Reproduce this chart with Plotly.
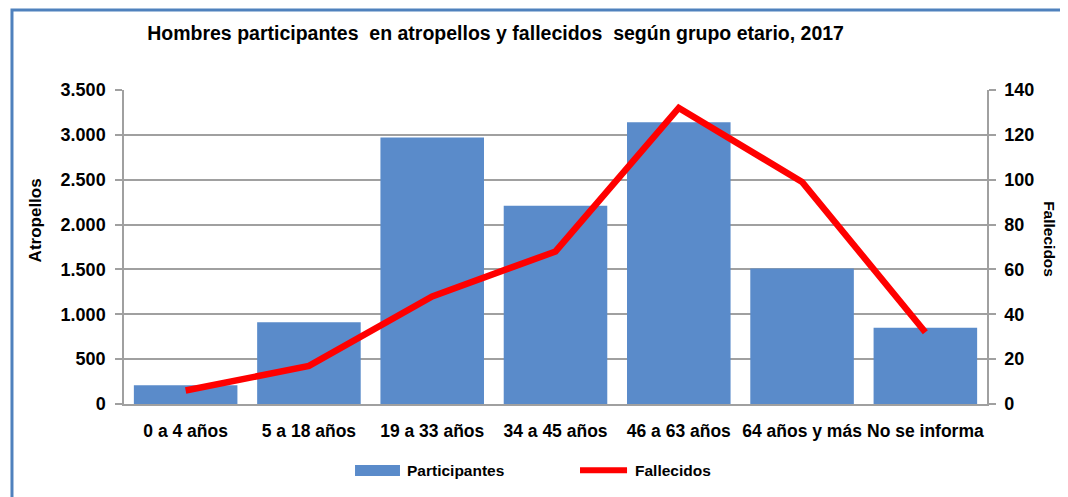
import plotly.graph_objects as go

categories = ["0 a 4 años", "5 a 18 años", "19 a 33 años", "34 a 45 años",
              "46 a 63 años", "64 años y más", "No se informa"]
participantes = [210, 910, 2970, 2210, 3140, 1510, 850]
fallecidos = [6, 17, 48, 68, 132, 99, 32]

title_text = "Hombres participantes  en atropellos y fallecidos  según grupo etario, 2017"
FONT = "Liberation Sans"
GRID = "#a0a0a0"
BAR = "#5a8bca"
RED = "#ff0000"

fig = go.Figure()
fig.add_trace(go.Bar(
    x=categories, y=participantes, name="Participantes",
    marker=dict(color=BAR, line=dict(width=0)),
    yaxis="y", showlegend=False,
))
fig.add_trace(go.Scatter(
    x=categories, y=fallecidos, name="Fallecidos", mode="lines",
    line=dict(color=RED, width=6.5),
    yaxis="y2", showlegend=False,
))

bold = dict(family=FONT, weight="bold", color="black")

fig.update_layout(
    width=1060, height=489,
    margin=dict(l=116, r=81, t=82, b=93, autoexpand=False),
    paper_bgcolor="white", plot_bgcolor="white",
    separators=",.",
    bargap=0.16,
    font=dict(family=FONT, color="black", size=15),
    title=dict(text=title_text, x=0.46, xanchor="center",
               y=0.949, yanchor="middle", font=dict(size=19.5, **bold)),
    xaxis=dict(
        showline=True, linecolor=GRID, linewidth=1.5,
        ticks="", ticklabelstandoff=10,
        tickfont=dict(size=17.5, **bold),
    ),
    yaxis=dict(
        range=[0, 3500], tickvals=[0, 500, 1000, 1500, 2000, 2500, 3000, 3500],
        tickformat=",d", showgrid=True, gridcolor=GRID, gridwidth=1.5,
        showline=True, linecolor=GRID, linewidth=1.5,
        ticks="outside", ticklen=7, tickcolor=GRID, tickwidth=1.5,
        ticklabelstandoff=6,
        tickfont=dict(size=18, **bold), zeroline=False,
    ),
    yaxis2=dict(
        range=[0, 140], tickvals=[0, 20, 40, 60, 80, 100, 120, 140],
        overlaying="y", side="right", showgrid=False,
        showline=True, linecolor=GRID, linewidth=1.5,
        ticks="outside", ticklen=7, tickcolor=GRID, tickwidth=1.5,
        ticklabelstandoff=5,
        tickfont=dict(size=18, **bold), zeroline=False,
    ),
)

# axis titles
fig.add_annotation(text="Atropellos", xref="paper", yref="paper",
                   x=-0.1015, y=0.586, textangle=-90, showarrow=False,
                   font=dict(size=17, **bold), xanchor="center", yanchor="middle")
fig.add_annotation(text="Fallecidos", xref="paper", yref="paper",
                   x=1.073, y=0.525, textangle=90, showarrow=False,
                   font=dict(size=15.5, **bold), xanchor="center", yanchor="middle")

# legend (drawn manually to match the wide swatches)
fig.add_shape(type="rect", xref="paper", yref="paper",
              x0=0.2677, x1=0.3198, y0=-0.229, y1=-0.194,
              line=dict(width=0), fillcolor=BAR)
fig.add_annotation(text="Participantes", xref="paper", yref="paper",
                   x=0.3256, y=-0.211, xanchor="left", yanchor="middle",
                   showarrow=False, font=dict(size=15.5, **bold))
fig.add_shape(type="line", xref="paper", yref="paper",
              x0=0.5284, x1=0.5829, y0=-0.211, y1=-0.211,
              line=dict(color=RED, width=6))
fig.add_annotation(text="Fallecidos", xref="paper", yref="paper",
                   x=0.5898, y=-0.211, xanchor="left", yanchor="middle",
                   showarrow=False, font=dict(size=15.5, **bold))

# outer frame
fig.add_shape(type="rect", xref="paper", yref="paper",
              x0=-0.1298, x1=1.0869, y0=-0.4, y1=1.2548,
              line=dict(color="#4f81bd", width=3), fillcolor="rgba(0,0,0,0)",
              layer="below")

fig.write_html("out.html")
